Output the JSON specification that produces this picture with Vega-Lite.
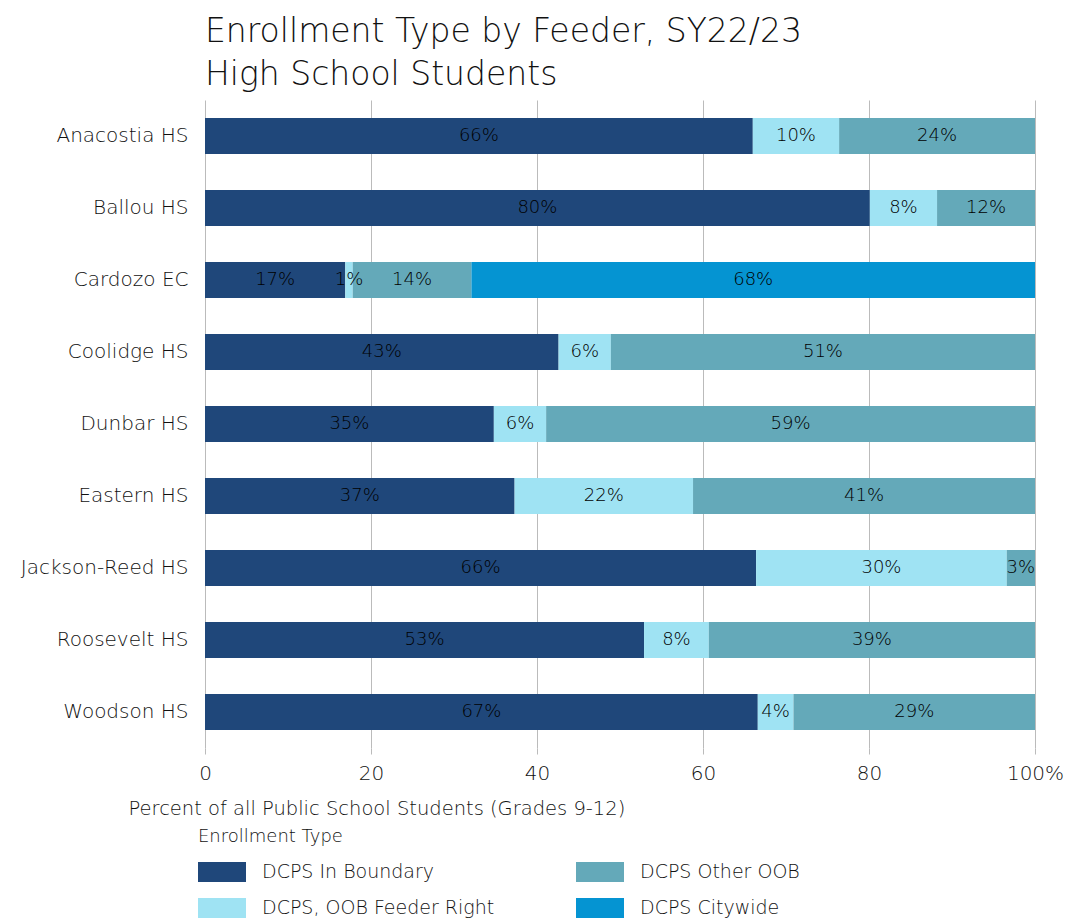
{
  "$schema": "https://vega.github.io/schema/vega-lite/v6.json",
  "width": 830,
  "height": 648,
  "autosize": {"type": "none"},
  "padding": {"left": 205, "top": 100, "right": 31, "bottom": 172},
  "background": "white",
  "config": {"font": "DejaVu Sans", "view": {"stroke": null}},
  "title": {
    "text": ["Enrollment Type by Feeder, SY22/23", "High School Students"],
    "anchor": "start",
    "frame": "group",
    "fontSize": 33,
    "fontWeight": 200,
    "color": "#111111",
    "lineHeight": 43,
    "offset": 8
  },
  "data": {
    "values": [
      {"school": "Anacostia HS", "type": "DCPS In Boundary", "pct": 66.0},
      {"school": "Anacostia HS", "type": "DCPS, OOB Feeder Right", "pct": 10.4},
      {"school": "Anacostia HS", "type": "DCPS Other OOB", "pct": 23.6},
      {"school": "Ballou HS", "type": "DCPS In Boundary", "pct": 80.1},
      {"school": "Ballou HS", "type": "DCPS, OOB Feeder Right", "pct": 8.1},
      {"school": "Ballou HS", "type": "DCPS Other OOB", "pct": 11.8},
      {"school": "Cardozo EC", "type": "DCPS In Boundary", "pct": 16.9},
      {"school": "Cardozo EC", "type": "DCPS, OOB Feeder Right", "pct": 0.9},
      {"school": "Cardozo EC", "type": "DCPS Other OOB", "pct": 14.3},
      {"school": "Cardozo EC", "type": "DCPS Citywide", "pct": 67.9},
      {"school": "Coolidge HS", "type": "DCPS In Boundary", "pct": 42.6},
      {"school": "Coolidge HS", "type": "DCPS, OOB Feeder Right", "pct": 6.3},
      {"school": "Coolidge HS", "type": "DCPS Other OOB", "pct": 51.1},
      {"school": "Dunbar HS", "type": "DCPS In Boundary", "pct": 34.8},
      {"school": "Dunbar HS", "type": "DCPS, OOB Feeder Right", "pct": 6.3},
      {"school": "Dunbar HS", "type": "DCPS Other OOB", "pct": 58.9},
      {"school": "Eastern HS", "type": "DCPS In Boundary", "pct": 37.3},
      {"school": "Eastern HS", "type": "DCPS, OOB Feeder Right", "pct": 21.5},
      {"school": "Eastern HS", "type": "DCPS Other OOB", "pct": 41.2},
      {"school": "Jackson-Reed HS", "type": "DCPS In Boundary", "pct": 66.4},
      {"school": "Jackson-Reed HS", "type": "DCPS, OOB Feeder Right", "pct": 30.2},
      {"school": "Jackson-Reed HS", "type": "DCPS Other OOB", "pct": 3.4},
      {"school": "Roosevelt HS", "type": "DCPS In Boundary", "pct": 52.9},
      {"school": "Roosevelt HS", "type": "DCPS, OOB Feeder Right", "pct": 7.8},
      {"school": "Roosevelt HS", "type": "DCPS Other OOB", "pct": 39.3},
      {"school": "Woodson HS", "type": "DCPS In Boundary", "pct": 66.6},
      {"school": "Woodson HS", "type": "DCPS, OOB Feeder Right", "pct": 4.3},
      {"school": "Woodson HS", "type": "DCPS Other OOB", "pct": 29.1}
    ]
  },
  "transform": [
    {"calculate": "indexof(['DCPS In Boundary','DCPS, OOB Feeder Right','DCPS Other OOB','DCPS Citywide'], datum.type)", "as": "ord"},
    {"stack": "pct", "groupby": ["school"], "sort": [{"field": "ord", "order": "ascending"}], "as": ["x0", "x1"]},
    {"calculate": "(datum.x0 + datum.x1) / 2", "as": "mid"},
    {"calculate": "format(datum.pct, '.0f') + '%'", "as": "label"}
  ],
  "encoding": {
    "y": {
      "field": "school",
      "type": "nominal",
      "sort": null,
      "scale": {"paddingInner": 0.5, "paddingOuter": 0.25},
      "axis": {
        "title": null,
        "ticks": false,
        "domain": false,
        "labelFontSize": 20,
        "labelFontWeight": 200,
        "labelColor": "#111111",
        "labelPadding": 17
      }
    }
  },
  "layer": [
    {
      "mark": {"type": "bar"},
      "encoding": {
        "x": {
          "field": "x0",
          "type": "quantitative",
          "scale": {"domain": [0, 100], "nice": false},
          "axis": {
            "values": [0, 20, 40, 60, 80, 100],
            "labelExpr": "datum.value == 100 ? '100%' : datum.label",
            "grid": true,
            "gridColor": "#bbbbbb",
            "gridWidth": 1,
            "domain": false,
            "tickColor": "#bbbbbb",
            "tickSize": 6,
            "labelFontSize": 20,
            "labelFontWeight": 200,
            "labelColor": "#111111",
            "labelPadding": 9,
            "labelFlush": false,
            "title": "Percent of all Public School Students (Grades 9-12)",
            "titleFontSize": 19.5,
            "titleFontWeight": 200,
            "titleColor": "#111111",
            "titleX": -77,
            "titleY": 60,
            "titleAlign": "left",
            "titleBaseline": "middle"
          }
        },
        "x2": {"field": "x1"},
        "color": {
          "field": "type",
          "type": "nominal",
          "scale": {
            "domain": ["DCPS In Boundary", "DCPS, OOB Feeder Right", "DCPS Other OOB", "DCPS Citywide"],
            "range": ["#1f477a", "#9fe3f3", "#64a9b9", "#0594d2"]
          },
          "legend": {
            "title": "Enrollment Type",
            "orient": "none",
            "legendX": -7,
            "legendY": 728,
            "columns": 2,
            "columnPadding": 81,
            "rowPadding": 16,
            "symbolType": "M-1,-1H3.8V1H-1Z",
            "symbolSize": 400,
            "symbolStrokeWidth": 0,
            "labelOffset": 44,
            "labelLimit": 400,
            "labelFontSize": 19,
            "labelFontWeight": 200,
            "labelColor": "#111111",
            "titleFontSize": 18,
            "titleFontWeight": 200,
            "titleColor": "#111111",
            "titlePadding": 16
          }
        }
      }
    },
    {
      "mark": {"type": "text", "fontSize": 18, "fontWeight": 200, "color": "#000000", "align": "center", "baseline": "middle"},
      "encoding": {
        "x": {"field": "mid", "type": "quantitative"},
        "text": {"field": "label"}
      }
    }
  ]
}
